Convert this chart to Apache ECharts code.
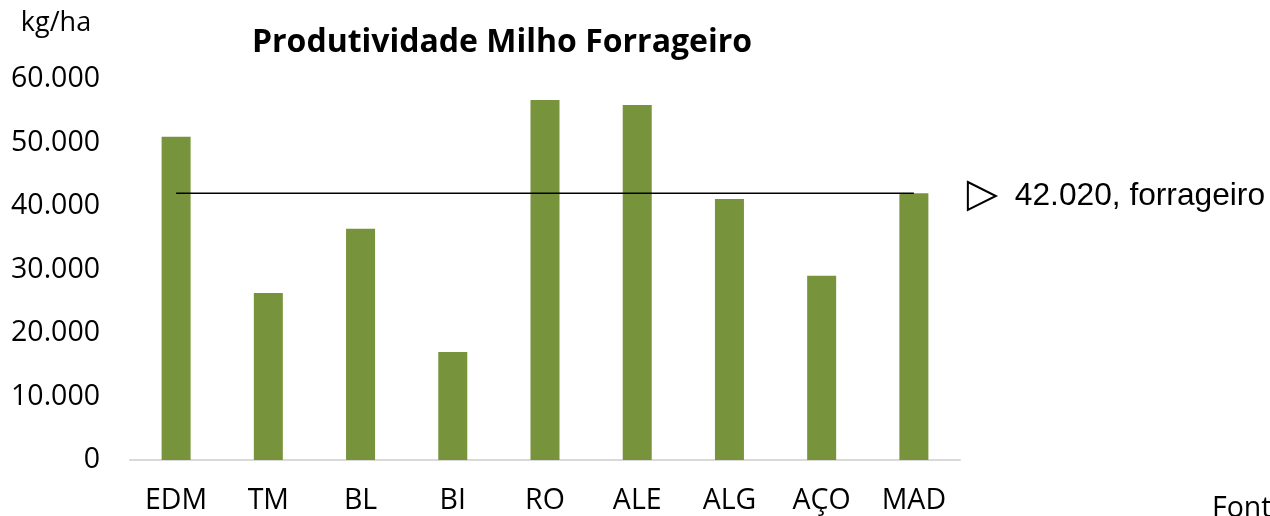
<!DOCTYPE html>
<html>
<head>
<meta charset="utf-8">
<script src="https://cdn.jsdelivr.net/npm/echarts@6/dist/echarts.min.js"></script>
<style>
  html, body { margin: 0; padding: 0; background: #fff; }
  #chart { width: 1270px; height: 516px; }
</style>
</head>
<body>
<div id="chart"></div>
<script>
const categories = ['EDM', 'TM', 'BL', 'BI', 'RO', 'ALE', 'ALG', 'AÇO', 'MAD'];
const produtividade = [50900, 26300, 36400, 17000, 56700, 55900, 41100, 29000, 42000];
const mediaForrageiro = 42020;
const mediaLine = [42020, 42020, 42020, 42020, 42020, 42020, 42020, 42020, 42020];

// separador de milhares com ponto
function fmt(v) {
  return String(v).replace(/\B(?=(\d{3})+(?!\d))/g, '.');
}

const chart = echarts.init(document.getElementById('chart'));
chart.setOption({
  animation: false,
  backgroundColor: '#fff',
  title: {
    text: 'Produtividade Milho Forrageiro',
    left: 497,
    textAlign: 'center',
    top: 22,
    textStyle: { fontFamily: 'Open Sans', fontWeight: 'bold', fontSize: 32, color: '#000' }
  },
  legend: {
    right: 0,
    top: 175,
    itemWidth: 28,
    itemHeight: 40,
    data: [{
      name: 'forrageiro',
      icon: 'path://M0,0 L1,0.5 L0,1 Z',
      itemStyle: { color: 'transparent', borderColor: '#000', borderWidth: 2 }
    }],
    formatter: () => fmt(mediaForrageiro) + ', forrageiro',
    textStyle: { fontFamily: 'Liberation Sans', fontSize: 31.7, color: '#000', padding: [0, 0, 0, 14] }
  },
  grid: { left: 130, right: 310, top: 79, bottom: 56 },
  xAxis: {
    type: 'category',
    data: categories,
    axisLine: { lineStyle: { color: '#d9d9d9', width: 2 } },
    axisTick: { show: false },
    axisLabel: { fontFamily: 'Open Sans', fontSize: 28.5, color: '#000', margin: 26 }
  },
  yAxis: {
    type: 'value',
    name: 'kg/ha',
    nameLocation: 'end',
    nameGap: 42,
    nameTextStyle: { fontFamily: 'Open Sans', fontSize: 27, color: '#000', align: 'center', padding: [0, 148, 0, 0] },
    min: 0,
    max: 60000,
    interval: 10000,
    axisLine: { show: false },
    axisTick: { show: false },
    splitLine: { show: false },
    axisLabel: { fontFamily: 'Open Sans', fontSize: 28.5, color: '#000', margin: 30, formatter: fmt }
  },
  series: [
    {
      name: 'produtividade',
      type: 'bar',
      data: produtividade,
      barWidth: 29,
      itemStyle: { color: '#77933c' }
    },
    {
      name: 'forrageiro',
      type: 'line',
      data: mediaLine,
      symbol: 'none',
      lineStyle: { color: '#000', width: 1.5 },
      z: 3
    }
  ],
  graphic: [{
    type: 'text',
    left: 1212,
    top: 494,
    style: { text: 'Fonte', fontFamily: 'Open Sans', fontSize: 28.5, fill: '#000' }
  }]
});
</script>
</body>
</html>
